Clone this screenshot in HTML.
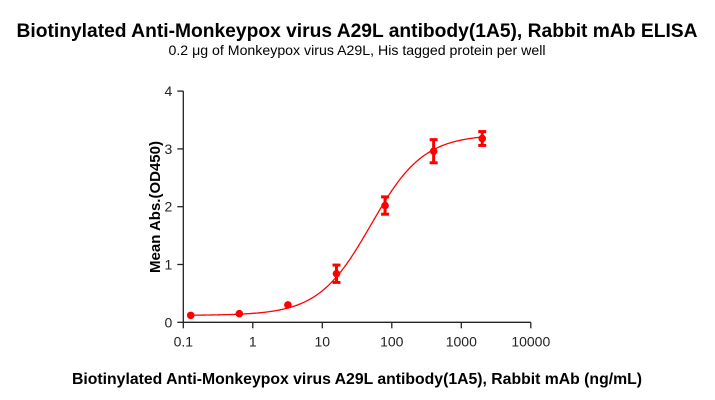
<!DOCTYPE html>
<html><head><meta charset="utf-8"><style>
html,body{margin:0;padding:0;background:#fff;}
svg{display:block;font-family:"Liberation Sans",Arial,sans-serif;}
</style></head><body>
<svg id="chart" width="715" height="400" viewBox="0 0 715 400">
<text x="357" y="37" text-anchor="middle" font-size="19" font-weight="bold" textLength="681" lengthAdjust="spacingAndGlyphs">Biotinylated Anti-Monkeypox virus A29L antibody(1A5), Rabbit mAb ELISA</text>
<text x="357" y="55" text-anchor="middle" font-size="14" textLength="377" lengthAdjust="spacingAndGlyphs">0.2 μg of Monkeypox virus A29L, His tagged protein per well</text>
<text transform="translate(160,207) rotate(-90)" text-anchor="middle" font-size="15" font-weight="bold">Mean Abs.(OD450)</text>
<text x="357" y="384" text-anchor="middle" font-size="16" font-weight="bold" textLength="570" lengthAdjust="spacingAndGlyphs">Biotinylated Anti-Monkeypox virus A29L antibody(1A5), Rabbit mAb (ng/mL)</text>
<g id="axes"></g><g id="plot"></g>
</svg>
<script>
const concentrations=[0.128,0.64,3.2,16,80,400,2000];
const meanOD=[0.12,0.15,0.30,0.84,2.02,2.96,3.18];
const errorOD=[0,0,0,0.15,0.15,0.2,0.12];
const fitParams=[0.12,3.25,50,1.15]; // bottom, top, EC50, hill
const xTicks=[0.1,1,10,100,1000,10000];
const xTickLabels=["0.1","1","10","100","1000","10000"];
const yTicks=[0,1,2,3,4];
const yTickLabels=["0","1","2","3","4"];

const NS="http://www.w3.org/2000/svg";
const X0=183.3,DEC=69.5,Y0=322.3,YU=57.8;
function xs(v){return X0+(Math.log10(v)+1)*DEC;}
function ys(v){return Y0-v*YU;}
function mk(tag,attrs,parent){const e=document.createElementNS(NS,tag);for(const k in attrs)e.setAttribute(k,attrs[k]);parent.appendChild(e);return e;}
const axes=document.getElementById('axes'),plot=document.getElementById('plot');
let l=mk('line',{x1:X0,y1:Y0,x2:xs(10000),y2:Y0,stroke:'#222','stroke-width':1.3},axes);


l=mk('line',{x1:X0,y1:Y0,x2:X0,y2:ys(4),stroke:'#222','stroke-width':1.3},axes);


xTicks.forEach((t,i)=>{
 const x=xs(t);
 const tk=mk('line',{x1:x,y1:Y0,x2:x,y2:Y0+6,stroke:'#222','stroke-width':1.3},axes);
 
 
 const tx=mk('text',{x:x,y:Y0+24,'text-anchor':'middle','font-size':14,fill:'#222'},axes);
 tx.textContent=xTickLabels[i];
 
 
 if(i<xTicks.length-1){for(let m=2;m<10;m++){}}
});
yTicks.forEach((t,i)=>{
 const y=ys(t);
 const tk=mk('line',{x1:X0-6,y1:y,x2:X0,y2:y,stroke:'#222','stroke-width':1.3},axes);
 
 
 const tx=mk('text',{x:X0-11,y:y+5,'text-anchor':'end','font-size':14,fill:'#222'},axes);
 tx.textContent=yTickLabels[i];
 
 
});
// fit curve
const [B,T,C,H]=fitParams;
let d='';
const lo=Math.log10(concentrations[0]),hi=Math.log10(concentrations[concentrations.length-1]);
for(let i=0;i<=200;i++){const lv=lo+(hi-lo)*i/200;const v=Math.pow(10,lv);const yv=B+(T-B)/(1+Math.pow(C/v,H));d+=(i?'L':'M')+xs(v).toFixed(2)+','+ys(yv).toFixed(2);}
const cv=mk('path',{d:d,fill:'none',stroke:'#ff0000','stroke-width':1.3},plot);


concentrations.forEach((c,i)=>{
 const x=xs(c),y=ys(meanOD[i]);
 if(errorOD[i]>0){
  const g=mk('g',{stroke:'#ff0000','stroke-width':3},plot);
  
  
  const yt=ys(meanOD[i]+errorOD[i]),yb=ys(meanOD[i]-errorOD[i]);
  mk('line',{x1:x,y1:yt,x2:x,y2:yb},g);
  mk('line',{x1:x-4,y1:yt,x2:x+4,y2:yt},g);
  mk('line',{x1:x-4,y1:yb,x2:x+4,y2:yb},g);
 }
 const p=mk('circle',{cx:x,cy:y,r:3.8,fill:'#ff0000'},plot);
 
 
});
</script>
</body></html>
